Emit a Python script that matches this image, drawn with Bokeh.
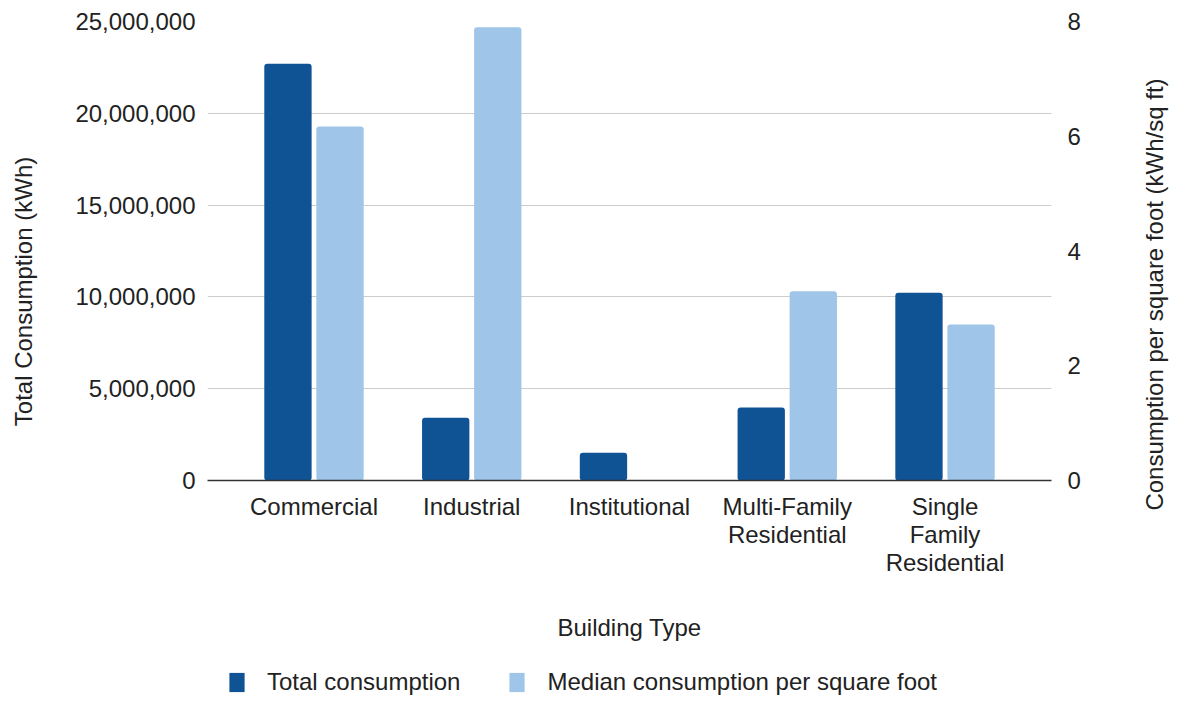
from bokeh.plotting import figure
from bokeh.layouts import column, row
from bokeh.models import (FactorRange, Range1d, LinearAxis, FixedTicker,
                          NumeralTickFormatter, Legend, LegendItem, ColumnDataSource)
from bokeh.transform import dodge
from bokeh.embed import file_html
from bokeh.resources import INLINE

categories = ["Commercial", "Industrial", "Institutional",
              "Multi-Family\nResidential", "Single\nFamily\nResidential"]
total_consumption = [22_700_000, 3_420_000, 1_510_000, 3_980_000, 10_220_000]
median_per_sqft = [6.17, 7.90, 0.0, 3.30, 2.72]
left_ticks = [0, 5_000_000, 10_000_000, 15_000_000, 20_000_000, 25_000_000]
right_ticks = [0, 2, 4, 6, 8]
series_names = ["Total consumption", "Median consumption per square foot"]
left_title = "Total Consumption (kWh)"
right_title = "Consumption per square foot (kWh/sq ft)"
x_title = "Building Type"

DARK = "#0f5395"
LIGHT = "#9fc5e8"
FONT = "Liberation Sans"
TXT = "#222222"
FS = "24px"
H = 646

source = ColumnDataSource(dict(cat=categories, total=total_consumption, median=median_per_sqft))

p = figure(width=1082, height=H, output_backend="svg", toolbar_location=None,
           x_range=FactorRange(factors=categories, range_padding=0.07),
           y_range=Range1d(0, 25_000_000),
           min_border_left=162, min_border_right=76, min_border_top=21, min_border_bottom=166)
p.outline_line_color = None
p.extra_y_ranges = {"right": Range1d(0, 8)}

r1 = p.vbar(x=dodge("cat", -0.165, range=p.x_range), top="total", width=0.3,
            source=source, fill_color=DARK, line_color=None, border_radius=3)
r2 = p.vbar(x=dodge("cat", 0.165, range=p.x_range), top="median", width=0.3,
            source=source, fill_color=LIGHT, line_color=None, y_range_name="right",
            border_radius=3)

p.xgrid.visible = False
p.ygrid.ticker = FixedTicker(ticks=left_ticks)
p.ygrid.grid_line_color = "#cccccc"
p.ygrid.grid_line_width = 1

ya = p.yaxis[0]
ya.ticker = FixedTicker(ticks=left_ticks)
ya.formatter = NumeralTickFormatter(format="0,0")
ya.axis_line_color = None
ya.major_tick_line_color = None
ya.minor_tick_line_color = None
ya.major_label_standoff = 6

ra = LinearAxis(y_range_name="right", ticker=FixedTicker(ticks=right_ticks))
ra.axis_line_color = None
ra.major_tick_line_color = None
ra.minor_tick_line_color = None
ra.major_label_standoff = 10
p.add_layout(ra, "right")

xa = p.xaxis[0]
xa.axis_line_color = "#333333"
xa.axis_line_width = 1.5
xa.major_tick_line_color = None
xa.minor_tick_line_color = None
xa.major_label_standoff = 6
xa.major_label_text_line_height = 1.05
xa.axis_label = x_title
xa.axis_label_standoff = 35

for ax in (ya, ra, xa):
    ax.major_label_text_font = FONT
    ax.major_label_text_font_size = FS
    ax.major_label_text_color = TXT
    ax.axis_label_text_font = FONT
    ax.axis_label_text_font_size = FS
    ax.axis_label_text_font_style = "normal"
    ax.axis_label_text_color = TXT


def side_title(text, width, border_left, border_bottom):
    f = figure(width=width, height=H, output_backend="svg", toolbar_location=None,
               x_range=Range1d(0, 1), y_range=Range1d(0, 1),
               x_axis_location=None, y_axis_location="left",
               min_border_left=border_left, min_border_right=0,
               min_border_top=21, min_border_bottom=border_bottom)
    f.outline_line_color = None
    f.grid.visible = False
    ax = f.yaxis[0]
    ax.ticker = FixedTicker(ticks=[])
    ax.axis_line_color = None
    ax.major_tick_line_color = None
    ax.minor_tick_line_color = None
    ax.major_label_standoff = 0
    ax.major_tick_out = 0
    ax.major_label_text_font_size = "0px"
    ax.axis_label = text
    ax.axis_label_standoff = 0
    ax.axis_label_text_font = FONT
    ax.axis_label_text_font_size = FS
    ax.axis_label_text_font_style = "normal"
    ax.axis_label_text_color = TXT
    try:
        f.frame_align = False
    except (AttributeError, ValueError):
        pass
    return f


lf = side_title(left_title, 45, 36, 85)
rf = side_title(right_title, 43, 40, 79)

# legend strip (swatches come from renderers of the same data, kept far out of view)
lg = figure(width=1170, height=50, output_backend="svg", toolbar_location=None,
            x_range=FactorRange(factors=categories), y_range=Range1d(-1000, -999),
            x_axis_location=None, y_axis_location=None, min_border=0)
lg.outline_line_color = None
lg.grid.visible = False
d1 = lg.vbar(x=dodge("cat", 50, range=lg.x_range), top="total", width=0.3, source=source,
             fill_color=DARK, line_color=None)
d2 = lg.vbar(x=dodge("cat", 50, range=lg.x_range), top="median", width=0.3, source=source,
             fill_color=LIGHT, line_color=None)
legend = Legend(items=[LegendItem(label=series_names[0], renderers=[d1]),
                       LegendItem(label=series_names[1], renderers=[d2])],
                orientation="horizontal", location=(227, 0))
legend.label_text_font = FONT
legend.label_text_font_size = FS
legend.label_text_color = TXT
legend.glyph_width = 19
legend.glyph_height = 24
legend.label_standoff = 21
legend.spacing = 47
legend.padding = 0
legend.margin = 0
legend.border_line_color = None
legend.background_fill_alpha = 0
lg.add_layout(legend, "center")

layout = column(row(lf, p, rf, spacing=0), lg, spacing=0)

open("out.html", "w").write(file_html(layout, INLINE))
